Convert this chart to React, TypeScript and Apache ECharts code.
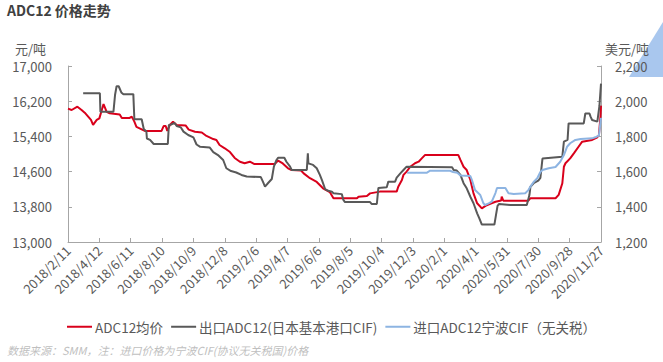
import React, { useEffect, useRef } from "react";
import * as echarts from "echarts";

// x labels: every 60 days from 2018/2/11 to 2020/11/27
const START_DATE = "2018/2/11";
const END_DATE = "2020/11/27";
const LABEL_STEP_DAYS = 60;

const leftTicks = { min: 13000, max: 17000, step: 800 };
const rightTicks = { min: 1200, max: 2200, step: 200 };

const seriesNames = ["ADC12均价", "出口ADC12(日本基本港口CIF)", "进口ADC12宁波CIF（无关税）"];

// ADC12均价 (元/吨)
const avgPrice: [string, number][] = [
  ["2018/2/11", 16030], ["2018/2/18", 16000], ["2018/3/1", 16075], ["2018/3/9", 16000],
  ["2018/3/15", 15940], ["2018/3/27", 15775], ["2018/3/31", 15660], ["2018/4/7", 15775],
  ["2018/4/12", 15810], ["2018/4/20", 16135], ["2018/4/26", 15960], ["2018/5/2", 15925],
  ["2018/5/21", 15900], ["2018/5/25", 15820], ["2018/6/9", 15820], ["2018/6/13", 15850],
  ["2018/6/18", 15735], ["2018/6/22", 15615], ["2018/7/2", 15560], ["2018/7/8", 15525],
  ["2018/8/9", 15525], ["2018/8/13", 15635], ["2018/8/17", 15635], ["2018/8/20", 15525],
  ["2018/8/25", 15660], ["2018/8/31", 15735], ["2018/9/7", 15660], ["2018/9/24", 15650],
  ["2018/9/30", 15555], ["2018/10/12", 15505], ["2018/10/25", 15490], ["2018/11/3", 15410],
  ["2018/11/16", 15340], ["2018/11/22", 15320], ["2018/11/28", 15205], ["2018/12/8", 15130],
  ["2018/12/18", 15045], ["2018/12/27", 14910], ["2019/1/6", 14825], ["2019/1/15", 14790],
  ["2019/1/25", 14825], ["2019/2/2", 14775], ["2019/3/14", 14775], ["2019/3/20", 14850],
  ["2019/3/29", 14785], ["2019/4/8", 14675], ["2019/4/15", 14635], ["2019/5/3", 14625],
  ["2019/5/8", 14560], ["2019/5/20", 14450], ["2019/6/2", 14365], ["2019/6/14", 14220],
  ["2019/6/27", 14135], ["2019/7/4", 13995], ["2019/8/18", 13995], ["2019/8/21", 14030],
  ["2019/9/6", 14045], ["2019/9/12", 14105], ["2019/10/1", 14145], ["2019/11/2", 14145],
  ["2019/11/5", 14255], ["2019/11/12", 14410], ["2019/11/15", 14525], ["2019/11/21", 14600],
  ["2019/11/28", 14710], ["2019/12/7", 14790], ["2019/12/14", 14825], ["2019/12/20", 14900],
  ["2019/12/26", 14975], ["2020/2/28", 14975], ["2020/3/3", 14865], ["2020/3/9", 14710],
  ["2020/3/15", 14635], ["2020/3/22", 14410], ["2020/3/28", 14105], ["2020/4/4", 13880],
  ["2020/4/13", 13765], ["2020/4/20", 13820], ["2020/4/29", 13865], ["2020/5/9", 13915],
  ["2020/5/20", 13945], ["2020/5/21", 14030], ["2020/5/24", 13940], ["2020/7/11", 13940],
  ["2020/7/15", 13995], ["2020/9/1", 13995], ["2020/9/7", 14070], ["2020/9/14", 14335],
  ["2020/9/17", 14710], ["2020/9/20", 14790], ["2020/9/29", 14900], ["2020/10/6", 15015],
  ["2020/10/15", 15165], ["2020/10/22", 15280], ["2020/11/10", 15320], ["2020/11/16", 15355],
  ["2020/11/20", 15380], ["2020/11/23", 15430], ["2020/11/26", 15850], ["2020/11/27", 16100],
];

// 出口ADC12(日本基本港口CIF) (美元/吨)
const exportCif: [string, number][] = [
  ["2018/3/12", 2045], ["2018/4/13", 2045], ["2018/4/14", 1940], ["2018/5/9", 1940],
  ["2018/5/12", 2035], ["2018/5/15", 2085], ["2018/5/19", 2085], ["2018/5/24", 2050],
  ["2018/5/28", 2040], ["2018/6/16", 2040], ["2018/6/18", 1897], ["2018/7/2", 1897],
  ["2018/7/6", 1842], ["2018/7/11", 1828], ["2018/7/12", 1788], ["2018/7/18", 1780],
  ["2018/7/25", 1757], ["2018/8/21", 1757], ["2018/8/23", 1865], ["2018/8/28", 1868],
  ["2018/9/3", 1876], ["2018/9/7", 1859], ["2018/9/15", 1851], ["2018/9/20", 1827],
  ["2018/9/29", 1808], ["2018/10/9", 1794], ["2018/10/15", 1754], ["2018/10/22", 1741],
  ["2018/11/9", 1737], ["2018/11/16", 1711], ["2018/11/25", 1694], ["2018/12/5", 1666],
  ["2018/12/11", 1619], ["2018/12/20", 1603], ["2018/12/30", 1595], ["2019/1/9", 1581],
  ["2019/1/19", 1572], ["2019/2/15", 1569], ["2019/2/19", 1543], ["2019/2/23", 1515],
  ["2019/3/1", 1535], ["2019/3/8", 1558], ["2019/3/12", 1628], ["2019/3/17", 1666],
  ["2019/3/20", 1679], ["2019/4/1", 1679], ["2019/4/5", 1656], ["2019/4/12", 1628],
  ["2019/4/15", 1609], ["2019/5/14", 1609], ["2019/5/16", 1704], ["2019/5/17", 1647],
  ["2019/5/26", 1638], ["2019/6/2", 1619], ["2019/6/8", 1581], ["2019/6/12", 1552],
  ["2019/6/18", 1501], ["2019/6/24", 1491], ["2019/7/1", 1486], ["2019/7/4", 1477],
  ["2019/7/20", 1472], ["2019/7/23", 1439], ["2019/7/26", 1427], ["2019/9/12", 1427],
  ["2019/9/15", 1416], ["2019/9/25", 1416], ["2019/9/28", 1507], ["2019/10/14", 1511],
  ["2019/10/17", 1543], ["2019/10/30", 1543], ["2019/11/2", 1566], ["2019/11/9", 1590],
  ["2019/11/15", 1609], ["2019/11/21", 1628], ["2020/2/16", 1625], ["2020/2/19", 1609],
  ["2020/2/25", 1606], ["2020/3/3", 1581], ["2020/3/9", 1534], ["2020/3/15", 1505],
  ["2020/3/22", 1457], ["2020/3/28", 1420], ["2020/4/4", 1363], ["2020/4/8", 1336],
  ["2020/4/13", 1299], ["2020/5/7", 1299], ["2020/5/10", 1353], ["2020/5/13", 1405],
  ["2020/5/16", 1416], ["2020/6/6", 1410], ["2020/7/8", 1410], ["2020/7/13", 1467],
  ["2020/7/15", 1514], ["2020/7/21", 1534], ["2020/7/30", 1549], ["2020/8/3", 1564],
  ["2020/8/7", 1674], ["2020/9/14", 1685], ["2020/9/17", 1770], ["2020/9/24", 1780],
  ["2020/9/26", 1874], ["2020/10/25", 1874], ["2020/10/28", 1930], ["2020/11/5", 1930],
  ["2020/11/7", 1912], ["2020/11/10", 1893], ["2020/11/20", 1884], ["2020/11/24", 1973],
  ["2020/11/27", 2100],
];

// 进口ADC12宁波CIF（无关税） (美元/吨)
const importCif: [string, number][] = [
  ["2019/11/22", 1594], ["2019/12/30", 1594], ["2020/1/5", 1605], ["2020/2/12", 1605],
  ["2020/2/18", 1598], ["2020/2/26", 1594], ["2020/3/3", 1578], ["2020/3/22", 1575],
  ["2020/3/25", 1552], ["2020/3/31", 1495], ["2020/4/10", 1467], ["2020/4/16", 1420],
  ["2020/4/19", 1410], ["2020/4/26", 1419], ["2020/5/2", 1429], ["2020/5/9", 1478],
  ["2020/5/12", 1507], ["2020/5/28", 1507], ["2020/6/3", 1477], ["2020/6/13", 1473],
  ["2020/7/5", 1477], ["2020/7/11", 1495], ["2020/7/15", 1515], ["2020/7/21", 1541],
  ["2020/7/28", 1562], ["2020/8/3", 1598], ["2020/8/7", 1609], ["2020/8/19", 1619],
  ["2020/9/1", 1626], ["2020/9/10", 1656], ["2020/9/17", 1694], ["2020/9/23", 1741],
  ["2020/9/29", 1761], ["2020/10/9", 1780], ["2020/10/19", 1785], ["2020/11/10", 1789],
  ["2020/11/16", 1795], ["2020/11/23", 1805], ["2020/11/27", 1905],
];

const DAY = 86400000;
const toUTC = (s: string) => {
  const [y, m, d] = s.split("/").map(Number);
  return Date.UTC(y, m - 1, d);
};
const START = toUTC(START_DATE);
const dayIndex = (s: string) => Math.round((toUTC(s) - START) / DAY);
const dayLabel = (n: number) => {
  const dt = new Date(START + n * DAY);
  return `${dt.getUTCFullYear()}/${dt.getUTCMonth() + 1}/${dt.getUTCDate()}`;
};
const toXY = (arr: [string, number][]) => arr.map(([d, v]) => [dayIndex(d), v]);

const FONT = "'Noto Sans CJK SC', 'Noto Sans', sans-serif";
const TXT = "#595959";
const AXIS = "#a6a6a6";

export default function App() {
  const ref = useRef<HTMLDivElement>(null);
  useEffect(() => {
    if (!ref.current) return;
    const chart = echarts.init(ref.current, undefined, { renderer: "svg" });
    const fmt = (v: number) => v.toLocaleString("en-US");
    chart.setOption({
      animation: false,
      backgroundColor: "#ffffff",
      textStyle: { fontFamily: FONT },
      grid: { left: 68, right: 62, top: 66, bottom: 120 },
      graphic: [
        {
          type: "polygon",
          shape: { points: [[629, 77], [663, 22], [663, 77]] },
          style: { fill: "#a9c7ee" },
          silent: true,
        },
        {
          type: "text", left: 7, top: 3,
          style: { text: "ADC12 价格走势", fill: "#404040", font: `bold 14px ${FONT}` },
        },
        {
          type: "text", left: 15, top: 42,
          style: { text: "元/吨", fill: TXT, font: `13px ${FONT}` },
        },
        {
          type: "text", left: 605, top: 42,
          style: { text: "美元/吨", fill: TXT, font: `13px ${FONT}` },
        },
        {
          type: "text", left: 7, top: 344,
          style: {
            text: "数据来源：SMM，注：进口价格为宁波CIF(协议无关税国)价格",
            fill: "#bfbfbf",
            font: `italic 11px ${FONT}`,
          },
        },
      ],
      legend: {
        top: 315,
        left: "center",
        itemWidth: 25,
        itemHeight: 2,
        itemGap: 8,
        icon: "rect",
        textStyle: { color: TXT, fontSize: 13.5, fontFamily: FONT, padding: [0, 0, 0, -2] },
        data: seriesNames,
      },
      xAxis: {
        type: "value",
        min: 0,
        max: dayIndex(END_DATE),
        interval: LABEL_STEP_DAYS,
        splitLine: { show: false },
        axisLine: { show: true, lineStyle: { color: AXIS } },
        axisTick: { show: true, inside: true, length: 4, lineStyle: { color: AXIS } },
        axisLabel: {
          rotate: 45,
          color: TXT,
          fontSize: 13,
          margin: 6,
          formatter: (v: number) => dayLabel(v),
        },
      },
      yAxis: [
        {
          type: "value",
          min: leftTicks.min,
          max: leftTicks.max,
          interval: leftTicks.step,
          splitLine: { show: false },
          axisLine: { show: true, lineStyle: { color: AXIS } },
          axisTick: { show: true, inside: true, length: 4, lineStyle: { color: AXIS } },
          axisLabel: { color: TXT, fontSize: 13, margin: 16, formatter: fmt },
        },
        {
          type: "value",
          min: rightTicks.min,
          max: rightTicks.max,
          interval: rightTicks.step,
          splitLine: { show: false },
          axisLine: { show: true, lineStyle: { color: AXIS } },
          axisTick: { show: true, inside: true, length: 4, lineStyle: { color: AXIS } },
          axisLabel: { color: TXT, fontSize: 13, margin: 14, formatter: fmt },
        },
      ],
      series: [
        {
          name: seriesNames[0], type: "line", yAxisIndex: 0, symbol: "none",
          data: toXY(avgPrice),
          itemStyle: { color: "#d9001b" },
          lineStyle: { color: "#d9001b", width: 2 },
        },
        {
          name: seriesNames[1], type: "line", yAxisIndex: 1, symbol: "none",
          data: toXY(exportCif),
          itemStyle: { color: "#595959" },
          lineStyle: { color: "#595959", width: 2 },
        },
        {
          name: seriesNames[2], type: "line", yAxisIndex: 1, symbol: "none",
          data: toXY(importCif),
          itemStyle: { color: "#8db4e2" },
          lineStyle: { color: "#8db4e2", width: 2 },
        },
      ],
    });
    return () => chart.dispose();
  }, []);
  return <div ref={ref} style={{ width: 663, height: 362, position: "absolute", left: 0, top: 0 }} />;
}
